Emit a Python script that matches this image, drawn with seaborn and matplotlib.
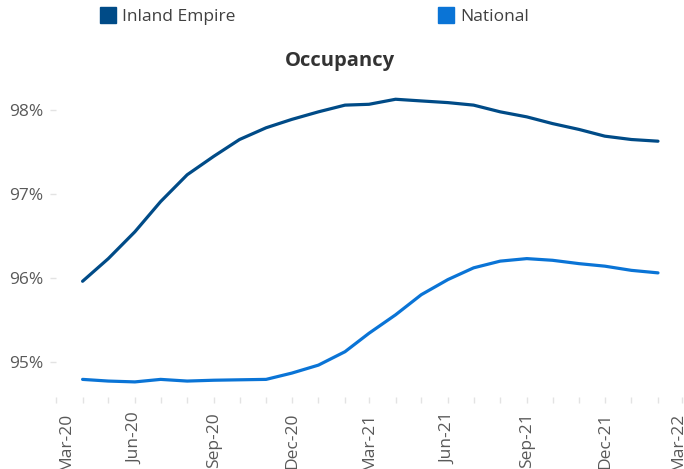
import pandas as pd
import numpy as np
import matplotlib
matplotlib.use("Agg")
import matplotlib.pyplot as plt
import matplotlib.dates as mdates
import matplotlib.transforms as mtransforms
from matplotlib.lines import Line2D
import seaborn as sns

# monthly occupancy, Apr-20 .. Feb-22
months = pd.date_range("2020-04-01", periods=23, freq="MS")
inland_empire = [95.96, 96.23, 96.55, 96.91, 97.23, 97.45, 97.65, 97.79, 97.89, 97.98,
                 98.06, 98.07, 98.13, 98.11, 98.09, 98.06, 97.98, 97.92, 97.84, 97.77,
                 97.69, 97.65, 97.63]
national = [94.79, 94.77, 94.76, 94.79, 94.77, 94.78, 94.785, 94.79, 94.865, 94.96,
            95.12, 95.34, 95.56, 95.80, 95.98, 96.12, 96.20, 96.23, 96.21, 96.17,
            96.14, 96.09, 96.06]
series_names = ["Inland Empire", "National"]
colors = ["#004B87", "#0A74D6"]

df = pd.DataFrame({
    "month": list(months) * 2,
    "occupancy": inland_empire + national,
    "market": [series_names[0]] * len(months) + [series_names[1]] * len(months),
})

sns.set_style("white")
plt.rcParams["font.family"] = ["Open Sans", "DejaVu Sans"]

#create figure
fig = plt.figure(figsize=(6.84, 4.69), dpi=100)
ax = fig.add_axes([56/684, 1 - 397/469, 626/684, 312/469])

sns.lineplot(data=df, x="month", y="occupancy", hue="market",
             palette=dict(zip(series_names, colors)), linewidth=2.3,
             legend=False, ax=ax)

#axes and ticks
ax.set_xlim(pd.Timestamp("2020-03-01"), pd.Timestamp("2022-03-01"))
ax.set_ylim(94.58, 98.30)
ax.xaxis.set_major_locator(mdates.MonthLocator(bymonth=[3, 6, 9, 12]))
ax.xaxis.set_minor_locator(mdates.MonthLocator())
ax.xaxis.set_major_formatter(mdates.DateFormatter("%b-%y"))
ax.set_yticks([95, 96, 97, 98])
ax.set_yticklabels(["95%", "96%", "97%", "98%"])
ax.tick_params(axis="x", which="both", direction="out", length=4, width=1,
               color="#E3E3E3", labelsize=12.5, labelcolor="#595959", pad=7,
               labelrotation=90, bottom=True)
ax.tick_params(axis="y", direction="out", length=4, width=1, color="#E3E3E3",
               labelsize=12.5, labelcolor="#595959", pad=5, left=True)
for s in ax.spines.values():
    s.set_visible(False)
ax.set_xlabel("")
ax.set_ylabel("")

# edge labels are pushed inside the picture, as in the original
fig.canvas.draw()
xlabels = ax.get_xticklabels()
xlabels[0].set_transform(xlabels[0].get_transform() +
                         mtransforms.ScaledTranslation(0.10, 0, fig.dpi_scale_trans))
xlabels[-1].set_transform(xlabels[-1].get_transform() +
                          mtransforms.ScaledTranslation(-0.04, 0, fig.dpi_scale_trans))

#title and legend
fig.text(340/684, 1 - 61/469, "Occupancy", ha="center", va="center",
         fontsize=14.5, fontweight="bold", color="#333333")
handles = [Line2D([], [], marker="s", linestyle="none", markersize=11.5,
                  markerfacecolor=c, markeredgecolor=c) for c in colors]
fig.legend(handles, series_names, loc="upper left", ncol=2,
           bbox_to_anchor=(99/684, 1 - 9/469), frameon=False, borderpad=0,
           borderaxespad=0, handlelength=1.0, handletextpad=0.35,
           columnspacing=11.6, fontsize=12.5, labelcolor="#404040")

fig.savefig("out.png", dpi=100)
